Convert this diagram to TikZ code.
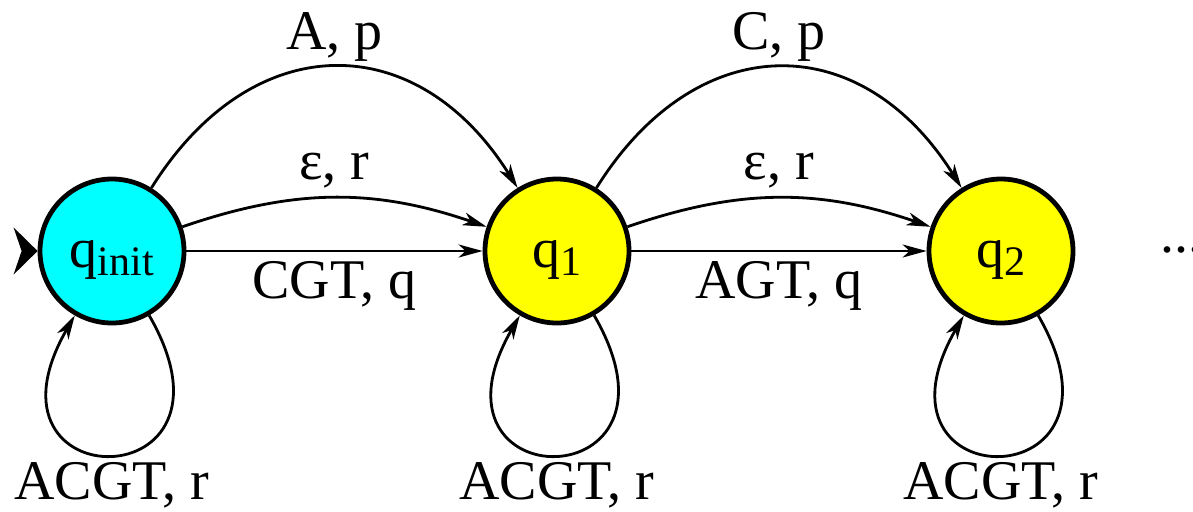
\documentclass[tikz,border=0pt]{standalone}
\usepackage{fontspec}
\setmainfont{Liberation Serif}
\usetikzlibrary{arrows.meta}
\definecolor{cian}{RGB}{0,255,255}
\definecolor{amarillo}{RGB}{255,255,0}
\newcommand{\qsub}[1]{q\raisebox{-4pt}{\fontsize{21pt}{21pt}\selectfont #1}}

\begin{document}
\begin{tikzpicture}[
    x=0.5pt, y=-0.5pt,
    every node/.style={font=\fontsize{28pt}{30pt}\selectfont},
    estado/.style={draw, circle, line width=2.4pt, minimum size=72pt, inner sep=0pt, text height=16pt, text depth=0pt},
    flecha/.style={line width=1.4pt, -{Stealth[length=12pt, width=6.5pt, inset=3.5pt]}},
    etiq/.style={inner sep=3.5pt, text height=19.6pt, text depth=4.8pt},
    bucle/.style={inner sep=2pt, text height=19.6pt, text depth=3pt}
  ]
  \useasboundingbox (0,0) rectangle (1193,511);
  \node[estado, fill=cian]     (qi) at (112,251)  {\qsub{init}};
  \node[estado, fill=amarillo] (q1) at (557,251)  {\qsub{1}};
  \node[estado, fill=amarillo] (q2) at (1001,251) {\qsub{2}};
  \node[anchor=base west, inner sep=0pt] (more) at (1160,252) {...};
  % flecha inicial
  \coordinate (entry) at ([xshift=-8pt]qi.west);
  \draw[line width=1pt, -{Stealth[length=12pt, width=23.5pt, inset=4pt]}] (entry) -- (qi.west);
  % transiciones
  \draw[flecha] (qi) to[out=58, in=122, looseness=1.33] node[etiq, above] {A, p} (q1);
  \draw[flecha] (qi) to[out=19, in=161] node[etiq, above] {ε, r} (q1);
  \draw[flecha] (qi) -- node[etiq, below] {CGT, q} (q1);
  \draw[flecha] (q1) to[out=58, in=122, looseness=1.33] node[etiq, above] {C, p} (q2);
  \draw[flecha] (q1) to[out=19, in=161] node[etiq, above] {ε, r} (q2);
  \draw[flecha] (q1) -- node[etiq, below] {AGT, q} (q2);
  % bucles
  \draw[flecha] (qi) to[out=-60, in=-120, looseness=7.4] node[bucle, below] {ACGT, r} (qi);
  \draw[flecha] (q1) to[out=-60, in=-120, looseness=7.4] node[bucle, below] {ACGT, r} (q1);
  \draw[flecha] (q2) to[out=-60, in=-120, looseness=7.4] node[bucle, below] {ACGT, r} (q2);
\end{tikzpicture}
\end{document}
